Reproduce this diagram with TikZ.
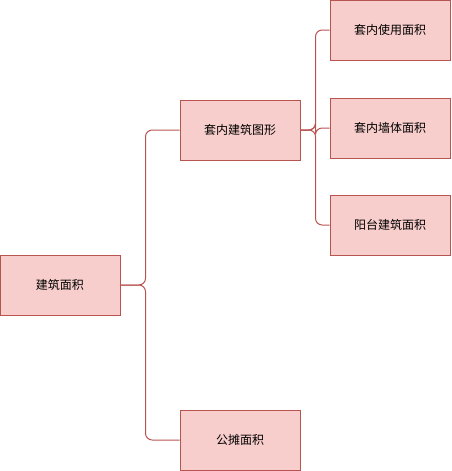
\documentclass[tikz,border=0pt]{standalone}
\usepackage{fontspec}
\setmainfont{Noto Sans CJK SC}
\usepackage{xcolor}
\definecolor{boxfill}{HTML}{F8CECC}
\definecolor{boxline}{HTML}{B85450}
\usetikzlibrary{positioning}
\tikzset{
    areabox/.style={rectangle, draw=boxline, fill=boxfill, line width=0.75pt, minimum width=90pt, minimum height=45pt, inner sep=0pt, font=\fontsize{9pt}{11pt}\selectfont},
    link/.style={draw=boxline, line width=0.75pt, rounded corners=5pt}
}
\begin{document}
\begin{tikzpicture}[x=0.75pt, y=-0.75pt]
                \useasboundingbox (0, 0) rectangle (451, 471);
                \node[areabox] (jzmj) at (60, 285) {建筑面积};
                \node[areabox] (tnjz) at (240, 130) {套内建筑图形};
                \node[areabox] (gtmj) at (240, 440) {公摊面积};
                \node[areabox] (tnsy) at (390, 30) {套内使用面积};
                \node[areabox] (tnqt) at (390, 128) {套内墙体面积};
                \node[areabox] (ytjz) at (390, 225) {阳台建筑面积};

                \draw[link] (jzmj.east) -- ++(25, 0) |- (tnjz.west);
                \draw[link] (jzmj.east) -- ++(25, 0) |- (gtmj.west);
                \draw[link] (tnjz.east) -- ++(15, 0) |- (tnsy.west);
                \draw[link] (tnjz.east) -- ++(15, 0) |- (tnqt.west);
                \draw[link] (tnjz.east) -- ++(15, 0) |- (ytjz.west);
            \end{tikzpicture}
\end{document}
